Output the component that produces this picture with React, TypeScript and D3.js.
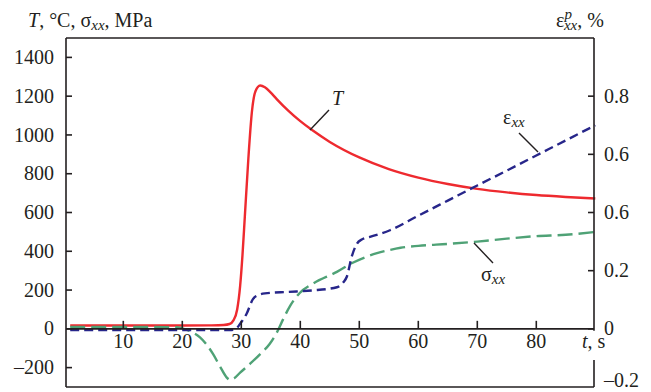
import React from 'react';
import * as d3 from 'd3';

// temperature T, °C
const tTime = [1, 10, 20, 25, 27, 28, 28.7, 29.3, 29.8, 30.2, 30.6, 31.2, 31.8, 32.4, 33.2, 34, 35, 36, 38, 40, 42, 45, 50, 55, 60, 65, 70, 75, 80, 85, 90];
const tValues = [17, 17, 17, 18, 20, 25, 45, 100, 220, 380, 580, 880, 1120, 1225, 1255, 1246, 1218, 1185, 1124, 1071, 1025, 964, 884, 824, 780, 747, 722, 704, 690, 680, 672];

// plastic strain, %
const epsTime = [1, 10, 20, 28, 28.9, 29.9, 30.9, 32, 33, 34, 38, 42, 46.2, 47.3, 47.9, 48.7, 49.6, 50.5, 51.8, 55.2, 60, 65, 70, 75, 80, 85, 90];
const epsValues = [-0.004, -0.004, -0.004, -0.004, -0.002, 0.02, 0.052, 0.103, 0.117, 0.122, 0.127, 0.132, 0.143, 0.16, 0.18, 0.247, 0.293, 0.308, 0.316, 0.339, 0.389, 0.441, 0.493, 0.544, 0.596, 0.648, 0.7];

// stress sigma_xx, MPa
const sigTime = [1, 10, 19, 20, 21.5, 23, 25.2, 26.5, 27.5, 28.1, 28.8, 29.8, 31.5, 33.2, 34.8, 36, 37.1, 38.3, 39.9, 42.2, 46.2, 48.7, 53, 55.2, 57, 60, 65, 70, 75, 80, 85, 90];
const sigValues = [10, 10, 8, 2, -15, -44, -129, -200, -250, -263, -255, -226, -180, -130, -78, -20, 50, 120, 185, 234, 294, 338, 390, 407, 418, 428, 438, 450, 465, 478, 485, 500];

const xTicks = [10, 20, 30, 40, 50, 60, 70, 80];
const leftTicks = [-200, 0, 200, 400, 600, 800, 1000, 1200, 1400];
const rightTicks = [0, 0.2, 0.4, 0.6, 0.8];
const rightTickLabels = ['0', '0.2', '0.6', '0.6', '0.8'];

const W = 651;
const H = 392;
const L = 66, R = 594, T = 38, B = 387;
const ink = '#231f20';
const serif = "'Liberation Serif', 'Times New Roman', Times, 'DejaVu Serif', serif";

export default function App() {
  const x = d3.scaleLinear().domain([0, 90]).range([64.3, 595.3]);
  const yL = d3.scaleLinear().domain([-300, 1500]).range([B, T]);
  const yR = d3.scaleLinear().domain([-0.2, 1.0]).range([B, T]);

  const mk = (ts: number[], vs: number[], y: d3.ScaleLinear<number, number>) =>
    d3.line<number>().x((_, i) => x(ts[i])).y(d => y(d)).curve(d3.curveMonotoneX)(vs) || '';

  const y0 = yL(0);

  return (
    <svg width={W} height={H} style={{ position: 'absolute', left: 0, top: 0 }}>
      <rect width={W} height={H} fill="#fff" />

      {/* curves */}
      <path d={mk(tTime, tValues, yL)} fill="none" stroke="#ee2a2f" strokeWidth={2.4} />
      <path d={mk(sigTime, sigValues, yL)} fill="none" stroke="#4fa276" strokeWidth={2.4} strokeDasharray="15,6" />
      <path d={mk(epsTime, epsValues, yR)} fill="none" stroke="#27268a" strokeWidth={2.4} strokeDasharray="9,5" />

      {/* frame */}
      <g stroke={ink} strokeWidth={1.6} fill="none">
        <line x1={L} y1={T} x2={R} y2={T} />
        <line x1={L} y1={T} x2={L} y2={B} />
        <line x1={L} y1={B} x2={R} y2={B} />
        <line x1={R} y1={T} x2={R} y2={y0 + 2} />
        <line x1={R} y1={360} x2={R} y2={B} />
        <line x1={L} y1={y0} x2={R} y2={y0} />
        {xTicks.map(t => <line key={t} x1={x(t)} x2={x(t)} y1={y0} y2={y0 - 8} />)}
        {leftTicks.map(v => <line key={v} x1={L} x2={L + 6} y1={yL(v)} y2={yL(v)} />)}
        {rightTicks.map(v => <line key={v} x1={R} x2={R - 6} y1={yR(v)} y2={yR(v)} />)}
      </g>

      <g fontFamily={serif} fontSize={20} fill={ink} style={{ fontFamily: serif }}>
        {/* tick labels */}
        {xTicks.map(t => (
          <text key={t} x={x(t)} y={348} textAnchor="middle">{t}</text>
        ))}
        <text x={582} y={348}><tspan fontStyle="italic">t</tspan>, s</text>
        {leftTicks.map(v => (
          <text key={v} x={54} y={yL(v)} dy="0.33em" textAnchor="end">{v < 0 ? '–' + Math.abs(v) : v}</text>
        ))}
        {rightTicks.map((v, i) => (
          <text key={v} x={604} y={yR(v)} dy="0.33em">{rightTickLabels[i]}</text>
        ))}
        <text x={604} y={B}>–0.2</text>

        {/* axis titles */}
        <text x={28} y={27}>
          <tspan fontStyle="italic">T</tspan>, °C, σ<tspan fontStyle="italic" fontSize={15} dy={3}>xx</tspan><tspan dy={-3}>, MPa</tspan>
        </text>
        <text x={556} y={27}>
          ε<tspan fontStyle="italic" fontSize={15} dy={-8}>p</tspan><tspan fontStyle="italic" fontSize={15} dx={-8} dy={11}>xx</tspan><tspan dy={-3}>, %</tspan>
        </text>

        {/* curve labels */}
        <text x={332} y={105} fontStyle="italic">T</text>
        <text x={503} y={124}>ε<tspan fontStyle="italic" fontSize={15} dy={3}>xx</tspan></text>
        <text x={481} y={281}>σ<tspan fontStyle="italic" fontSize={15} dy={3}>xx</tspan></text>
      </g>

      <g stroke={ink} strokeWidth={1.4}>
        <line x1={310} y1={130} x2={329} y2={110} />
        <line x1={519} y1={133} x2={538} y2={152} />
        <line x1={474} y1={243} x2={493} y2={263} />
      </g>
    </svg>
  );
}
